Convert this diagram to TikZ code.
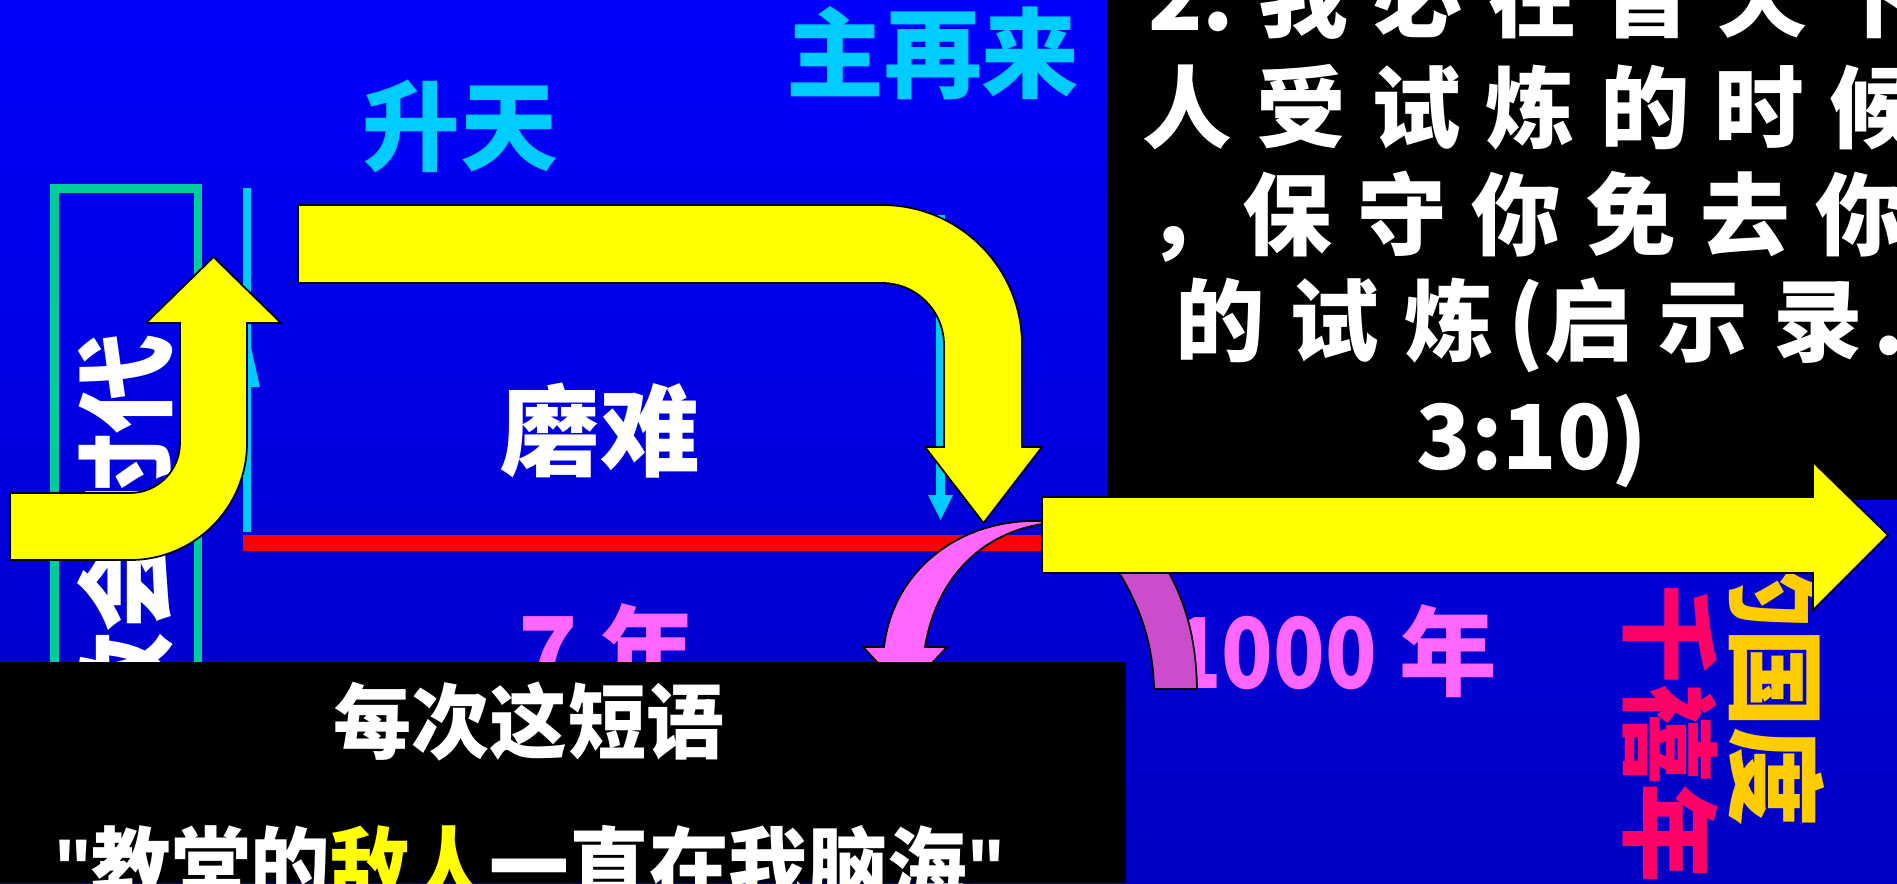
\documentclass[tikz,border=0pt]{standalone}
\usepackage{fontspec}
\setmainfont{Noto Sans CJK SC}
\newfontfamily\latq{Liberation Sans}
\definecolor{bgtop}{RGB}{0,0,252}
\definecolor{bgbot}{RGB}{0,0,195}
\definecolor{ylw}{RGB}{255,255,0}
\definecolor{cyn}{RGB}{0,204,255}
\definecolor{grn}{RGB}{0,204,153}
\definecolor{pnk}{RGB}{255,102,255}
\definecolor{prp}{RGB}{204,77,204}
\definecolor{crm}{RGB}{255,0,102}
\definecolor{gld}{RGB}{255,204,0}
\newcommand\fsz[1]{\fontsize{#1}{#1}\selectfont}
\newcommand\gq{\kern14.2pt}
\newcommand\qm{{\latq\bfseries"}}
\tikzset{
  yarrow/.style={fill=ylw, draw=black, line width=1pt, line join=miter},
  band/.style={draw=black, line width=1pt},
  lbl/.style={inner sep=0pt, outer sep=0pt},
  boxline/.style={lbl, anchor=west, text=white, font=\bfseries\fsz{51}},
  cyanline/.style={cyn, line width=5pt},
}
\begin{document}
\begin{tikzpicture}[x=0.02cm,y=-0.02cm]
\useasboundingbox (0,0) rectangle (1897,883);
\clip (0,0) rectangle (1897,883);
\shade[top color=bgtop,bottom color=bgbot] (0,0) rectangle (1897,883);
% green frame and church-age text
\draw[grn, line width=4.8pt] (54.5,188.5) rectangle (198,720);
\node[lbl, rotate=90, text=white, font=\bfseries\fsz{56.7}] (church) at (125,533) {教会时代};
% cyan lines
\coordinate (cl1) at (247,188); \coordinate (cl2) at (247,532);
\draw[cyanline] (cl1) -- (cl2);
\fill[cyn] (247,330) -- (260,387) -- (234,387) -- cycle;
\coordinate (cr1) at (940.5,215); \coordinate (cr2) at (940.5,500);
\draw[cyanline] (cr1) -- (cr2);
\fill[cyn] (928,495) -- (953,495) -- (940.5,520) -- cycle;
% red line
\fill[red] (243,535) rectangle (1042,551);
% labels on blue
\node[lbl, text=cyn, font=\bfseries\fsz{55.6}] (ascend) at (460,126) {升天};
\node[lbl, text=cyn, font=\bfseries\fsz{55.6}] (return) at (933,53) {主再来};
\node[lbl, text=white, font=\bfseries\fsz{56.7}] (trib) at (600,431) {磨难};
\node[lbl, anchor=base west, text=pnk, font=\bfseries\fsz{55.6}] (seven) at (518,687) {7 年};
\node[lbl, anchor=base west, text=pnk, font=\bfseries\fsz{55.6}] (thousand) at (1170,688) {\scalebox{0.87}[1]{1000} 年};
\node[lbl, rotate=-90, text=crm, font=\bfseries\fsz{56.7}] (mill) at (1670,734) {千禧年};
\node[lbl, rotate=-90, text=gld, font=\bfseries\fsz{56.7}] (kingdom) at (1777,678) {的国度};
% top yellow arrow
\draw[yarrow] (298,205) -- (882,205) .. controls (959.3,205) and (1022,267.7) .. (1022,345) -- (1022,447) -- (1042,447) -- (983.5,523) -- (925,447) -- (944,447) -- (944,345) .. controls (944,310.8) and (916.2,283) .. (882,283) -- (298,283) -- cycle;
% left U arrow
\draw[yarrow] (10,493) -- (130,493) .. controls (157.6,493) and (180,470.6) .. (180,443) -- (180,323) -- (146,323) -- (213.5,257) -- (281,323) -- (247,323) -- (247,443) .. controls (247,507.6) and (194.6,560) .. (130,560) -- (10,560) -- cycle;
% pink curved arrow
\draw[band, fill=pnk] (1042,521) .. controls (960,518) and (893,570) .. (884,647) -- (863,647) -- (905,692) -- (947,647) -- (925,647) .. controls (935,585) and (975,535) .. (1042,524) -- cycle;
% purple band
\draw[band, fill=prp] (1100,545) .. controls (1138,595) and (1153,640) .. (1154,689) -- (1197,689) .. controls (1196,630) and (1182,585) .. (1145,535) -- cycle;
% top-right black box
\fill[black] (1107,0) rectangle (1897,500);
\node[boxline] (l1) at (1148,-4) {2.\gq 我\gq 必\gq 在\gq 普\gq 天\gq 下};
\node[boxline] (l2) at (1142,107) {人\gq 受\gq 试\gq 炼\gq 的\gq 时\gq 候};
\node[boxline] (l3) at (1146,217) {，\kern4pt 保\gq 守\gq 你\gq 免\gq 去\gq 你};
\node[boxline] (l4) at (1175,325) {的\gq 试\gq 炼\kern8.5pt(启\gq 示\gq 录\kern6pt.};
\node[lbl, text=white, font=\bfseries\fsz{51}] (l5) at (1532,441) {3:10)};
% big right arrow
\draw[yarrow] (1042,497) -- (1813,497) -- (1813,462) -- (1888,535) -- (1813,610) -- (1813,573) -- (1042,573) -- cycle;
% bottom black box
\fill[black] (0,662) rectangle (1126,883);
\node[lbl, text=white, font=\bfseries\fsz{46.5}] (phrase) at (529,722) {\scalebox{0.955}[1]{每次这短语}};
\node[lbl, anchor=west, text=white, font=\bfseries\fsz{49.1}] (quote) at (54,867) {\scalebox{0.923}[1]{\qm 教堂的{\color{ylw}敌人}一直在我脑海\qm}};
\end{tikzpicture}
\end{document}
